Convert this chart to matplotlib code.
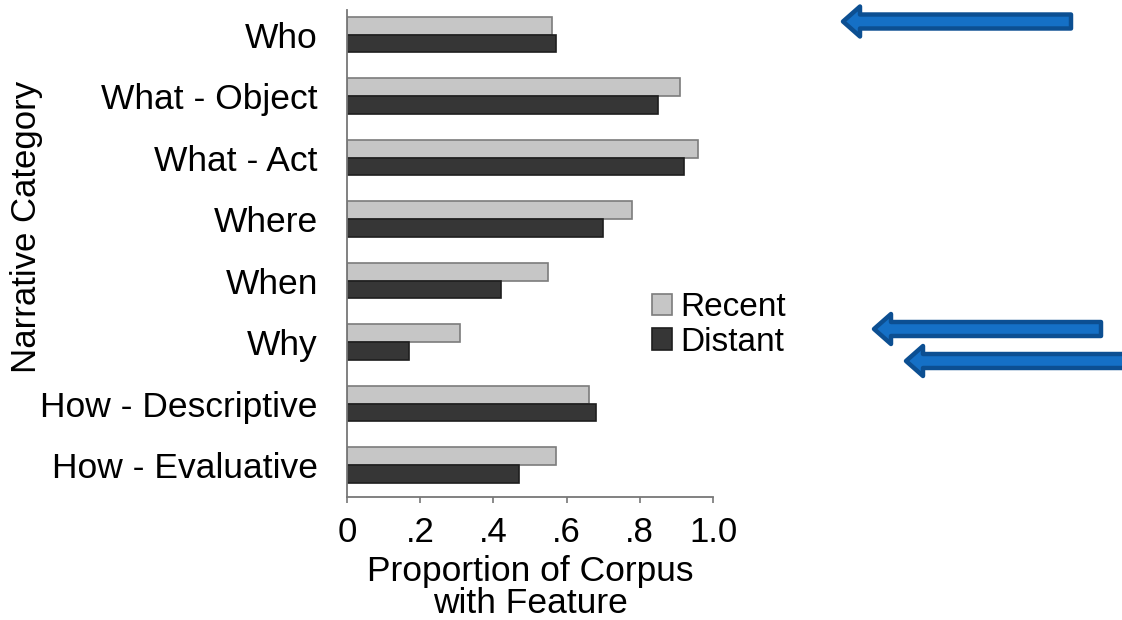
import numpy as np
import matplotlib
matplotlib.use("Agg")
import matplotlib.pyplot as plt
from matplotlib.patches import FancyArrow

plt.rcParams["font.family"] = ["Liberation Sans", "DejaVu Sans"]

# data
categories = ["Who", "What - Object", "What - Act", "Where", "When", "Why",
              "How - Descriptive", "How - Evaluative"]
recent = [0.56, 0.91, 0.96, 0.78, 0.55, 0.31, 0.66, 0.57]
distant = [0.57, 0.85, 0.92, 0.70, 0.42, 0.17, 0.68, 0.47]
xticks = [0, 0.2, 0.4, 0.6, 0.8, 1.0]
xticklabels = ["0", ".2", ".4", ".6", ".8", "1.0"]

W, H = 1122, 620
fig = plt.figure(figsize=(W / 100, H / 100), dpi=100)
ax = fig.add_axes([347 / W, 1 - 497 / H, 366 / W, 487 / H])

y = np.arange(len(categories))
h = 0.29
ax.barh(y - h / 2, recent, height=h, color="#c6c6c6", edgecolor="#7c7c7c",
        linewidth=1.2, label="Recent")
ax.barh(y + h / 2, distant, height=h, color="#363636", edgecolor="#1e1e1e",
        linewidth=1.2, label="Distant")

ax.set_xlim(0, 1.0)
ax.set_ylim(7.52, -0.4)
ax.set_yticks(y)
ax.set_yticklabels(categories, fontsize=25.5)
ax.set_xticks(xticks)
ax.set_xticklabels(xticklabels, fontsize=25)
ax.tick_params(axis="y", length=0, pad=21)
ax.tick_params(axis="x", length=4, width=1.2, color="#777777", pad=10)
for s in ["top", "right"]:
    ax.spines[s].set_visible(False)
for s in ["left", "bottom"]:
    ax.spines[s].set_color("#777777")
    ax.spines[s].set_linewidth(1.3)

ax.set_xlabel("Proportion of Corpus\nwith Feature", fontsize=25.5, linespacing=0.98,
              labelpad=4)
ax.set_ylabel("Narrative Category", fontsize=25)
ax.yaxis.set_label_coords((43 - 347) / 366, 0.555)

fig.legend(loc="center left", bbox_to_anchor=(652 / W, 1 - 325 / H), frameon=False,
           fontsize=24, handlelength=0.6, handleheight=0.6, handletextpad=0.25,
           labelspacing=0.1, borderpad=0, borderaxespad=0)

# blue arrows overlay
ov = fig.add_axes([0, 0, 1, 1])
ov.set_xlim(0, W)
ov.set_ylim(H, 0)
ov.axis("off")
for tail, tip, yc in [(1071, 843, 21.5), (1101, 874, 329), (1135, 906, 361)]:
    ov.add_patch(FancyArrow(tail, yc, tip - tail, 0, width=14, head_width=30,
                            head_length=17, length_includes_head=True,
                            fc="#1570c6", ec="#0c4f92", lw=3.2, joinstyle="round"))

fig.savefig("out.png", dpi=100)
